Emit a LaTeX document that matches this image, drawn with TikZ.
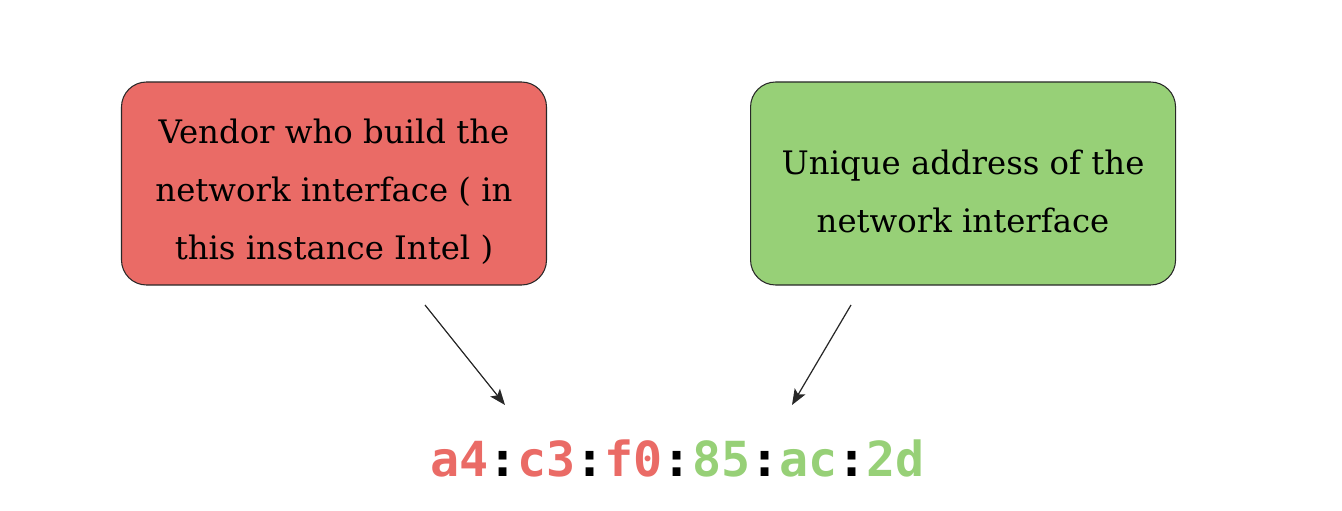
\documentclass[tikz,border=0pt]{standalone}
\usepackage{fontspec}
\setmainfont{DejaVu Serif}
\setmonofont{DejaVu Sans Mono}
\usepackage{tikz}
\usetikzlibrary{arrows.meta,positioning}
\definecolor{vendorred}{RGB}{234,107,102}
\definecolor{uniquegreen}{RGB}{151,208,119}
\definecolor{edge}{RGB}{40,40,40}

\begin{document}
\begin{tikzpicture}[
  part/.style={rectangle,rounded corners=0.5cm,draw=edge,line width=0.6pt,
               fill=#1,minimum width=8.5cm,minimum height=4.06cm,align=center,
               font=\fontsize{18.4}{33}\selectfont},
  arr/.style={-{Stealth[length=9pt,width=7pt,inset=2pt]},line width=0.7pt,color=edge}
]
  \useasboundingbox (0,0) rectangle (26.84,-10.22);

  % Gauche
  \node[part=vendorred] (vendor) at (6.68,-3.67)
    {\rule{0pt}{0.84cm}Vendor who build the\\network interface ( in\\this instance Intel )};

  % Droite
  \node[part=uniquegreen,right=4.06cm of vendor] (unique)
    {\rule{0pt}{0.82cm}Unique address of the\\network interface};

  % Adresse
  \node[font=\fontsize{27.5}{30}\selectfont\ttfamily\bfseries] (mac) at (13.55,-9.16)
    {\textcolor{vendorred}{a4}:\textcolor{vendorred}{c3}:\textcolor{vendorred}{f0}:%
     \textcolor{uniquegreen}{85}:\textcolor{uniquegreen}{ac}:\textcolor{uniquegreen}{2d}};

  % Flèches
  \coordinate (vtail) at (8.5,-6.1);
  \coordinate (vhead) at (10.1,-8.1);
  \coordinate (utail) at (17.02,-6.1);
  \coordinate (uhead) at (15.84,-8.1);
  \draw[arr] (vtail)--(vhead);
  \draw[arr] (utail)--(uhead);

\end{tikzpicture}
\end{document}
